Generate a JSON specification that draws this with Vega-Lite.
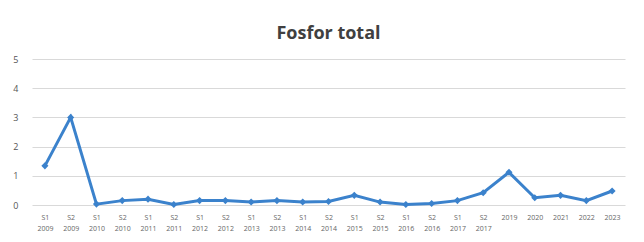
{
  "$schema": "https://vega.github.io/schema/vega-lite/v6.json",
  "autosize": {"type": "none"},
  "width": 593,
  "height": 146,
  "padding": {"left": 32, "top": 59, "right": 19, "bottom": 37},
  "background": "white",
  "title": {"text": "Fosfor total", "font": "Open Sans", "fontSize": 18, "fontWeight": "bold", "color": "#404040", "anchor": "middle", "offset": -6, "baseline": "bottom"},
  "data": {"values": [
    {"period": "S1 2009", "value": 1.34},
    {"period": "S2 2009", "value": 3.0},
    {"period": "S1 2010", "value": 0.03},
    {"period": "S2 2010", "value": 0.15},
    {"period": "S1 2011", "value": 0.2},
    {"period": "S2 2011", "value": 0.02},
    {"period": "S1 2012", "value": 0.15},
    {"period": "S2 2012", "value": 0.15},
    {"period": "S1 2013", "value": 0.1},
    {"period": "S2 2013", "value": 0.15},
    {"period": "S1 2014", "value": 0.1},
    {"period": "S2 2014", "value": 0.12},
    {"period": "S1 2015", "value": 0.33},
    {"period": "S2 2015", "value": 0.1},
    {"period": "S1 2016", "value": 0.02},
    {"period": "S2 2016", "value": 0.05},
    {"period": "S1 2017", "value": 0.15},
    {"period": "S2 2017", "value": 0.42},
    {"period": "2019", "value": 1.12},
    {"period": "2020", "value": 0.25},
    {"period": "2021", "value": 0.33},
    {"period": "2022", "value": 0.15},
    {"period": "2023", "value": 0.48}
  ]},
  "mark": {"type": "line", "color": "#3b82cc", "strokeWidth": 3, "point": {"shape": "diamond", "size": 50, "filled": true, "color": "#3b82cc"}},
  "encoding": {
    "x": {"field": "period", "type": "ordinal", "sort": null, "scale": {"type": "point", "padding": 0.5},
      "axis": {"title": null, "labelAngle": 0, "domain": false, "ticks": false, "grid": false, "labelFont": "Open Sans", "labelFontSize": 7, "labelColor": "#666666", "labelPadding": 8, "labelLineHeight": 11, "labelExpr": "split(datum.label, ' ')"}},
    "y": {"field": "value", "type": "quantitative", "scale": {"domain": [0, 5], "nice": false},
      "axis": {"title": null, "values": [0,1,2,3,4,5], "labelOverlap": false, "domain": false, "ticks": false, "grid": true, "gridColor": "#d9d9d9", "labelFont": "Open Sans", "labelFontSize": 9, "labelColor": "#555555", "labelPadding": 14}}
  },
  "config": {"view": {"stroke": null}}
}
